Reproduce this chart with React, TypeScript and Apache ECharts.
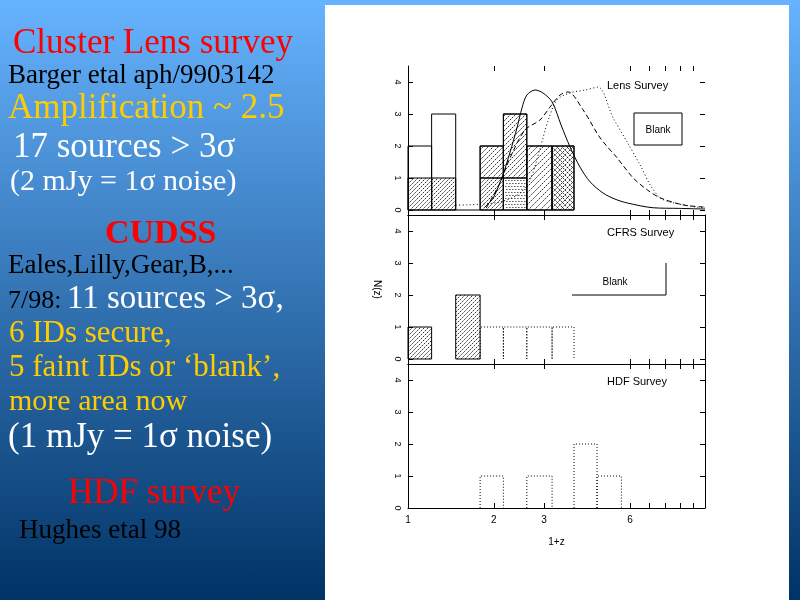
import React, { useEffect, useRef } from "react";
import * as echarts from "echarts";

// ---------- data ----------
// histogram bin edges in (1+z)
const binEdges = [1, 1.21, 1.47, 1.79, 2.16, 2.61, 3.2, 3.82, 4.6, 5.6];

// Lens survey (Barger et al.)
const lensTotal = [2, 3, 0, 2, 3, 2, 2];
const lensSecure = [1, 1, 0, 1, 0, 0, 0];
const lensFaint = [0, 0, 0, 0, 1, 0, 0];
const lensUpper = [0, 0, 0, 1, 2, 0, 0];
const lensPhotz = [0, 0, 0, 0, 0, 2, 0];
const lensCross = [0, 0, 0, 0, 0, 0, 2];

// CFRS survey
const cfrsSecure = [1, 0, 2, 0, 0, 0, 0];
const cfrsFaint = [0, 0, 0, 1, 1, 1, 1];

// HDF survey
const hdfCounts = [0, 0, 0, 1, 0, 1, 0, 2, 1];

// model curves for the lens survey
const modelSolidX = [1.86, 1.99, 2.15, 2.28, 2.41, 2.51, 2.61, 2.79, 2.97, 3.2, 3.44, 3.7, 4.01, 4.35, 4.83, 5.32, 5.87, 7.24, 8.98, 11];
const modelSolidY = [0.09, 0.38, 1.09, 1.81, 2.56, 3.19, 3.59, 3.75, 3.66, 3.38, 2.66, 1.97, 1.34, 0.88, 0.53, 0.34, 0.22, 0.07, 0.05, 0.03];
const modelDashX = [1.88, 2.1, 2.28, 2.57, 2.9, 3.15, 3.41, 3.64, 4.11, 4.72, 5.41, 6.16, 6.9, 7.66, 9.22, 11];
const modelDashY = [0.06, 0.84, 1.63, 2.5, 2.81, 3.22, 3.59, 3.69, 3.13, 2.25, 1.63, 1.0, 0.63, 0.38, 0.16, 0.09];
const modelDotX = [1.47, 1.62, 1.78, 2.1, 2.45, 2.68, 2.9, 3.1, 3.33, 3.7, 4.18, 4.64, 5.24, 5.87, 6.52, 7.07, 7.66, 8.3, 9.76, 11];
const modelDotY = [0.15, 0.16, 0.18, 0.25, 0.5, 0.94, 1.9, 2.8, 3.44, 3.66, 3.75, 3.84, 2.88, 2.12, 1.4, 0.78, 0.38, 0.25, 0.12, 0.06];

// axes
const xTickValues = [2, 3, 6, 7, 8, 9, 10];
const xLabelValues = [1, 2, 3, 6];
const yTickValues = [0, 1, 2, 3, 4];
const X_MIN = 1;
const X_MAX = 11;
const Y_MAX = 4.5;

// slide texts: [text, x, baseline, size, color, bold]
const slideTexts: [string, number, number, number, string, boolean][] = [
  ["Cluster Lens survey", 13, 53, 35, "#ff0000", false],
  ["Barger etal aph/9903142", 8, 83, 27, "#000000", false],
  ["Amplification ~ 2.5", 8, 118, 35, "#ffcc00", false],
  ["17 sources > 3\u03c3", 13, 157, 35, "#ffffff", false],
  ["(2 mJy = 1\u03c3 noise)", 10, 190, 30, "#ffffff", false],
  ["CUDSS", 105, 243, 34, "#ff0000", true],
  ["Eales,Lilly,Gear,B,...", 8, 273, 27, "#000000", false],
  ["7/98:", 8, 308, 26, "#000000", false],
  ["11 sources > 3\u03c3,", 67, 308, 33, "#ffffff", false],
  ["6 IDs secure,", 9, 342, 31, "#ffcc00", false],
  ["5 faint IDs or \u2018blank\u2019,", 9, 376, 31, "#ffcc00", false],
  ["more area now", 9, 409.5, 30, "#ffcc00", false],
  ["(1 mJy = 1\u03c3 noise)", 8, 447.5, 35, "#ffffff", false],
  ["HDF survey", 68, 503, 35, "#ff0000", false],
  ["Hughes etal 98", 19, 538, 27, "#000000", false],
];

const panelTitles = ["Lens Survey", "CFRS Survey", "HDF Survey"];

// ---------- helpers ----------
const lg = (v: number) => Math.log10(v);
const SERIF = '"Liberation Serif", "Times New Roman", serif';
const SANS = '"Liberation Sans", Arial, sans-serif';

// pattern codes
const P_OUTLINE = 0, P_HATCH4 = 1, P_HATCH5 = 2, P_HATCH6 = 3, P_DOTS = 4, P_CROSS = 5, P_DOTTED = 6;

function lensItems() {
  const items: number[][] = [];
  for (let i = 0; i < lensTotal.length; i++) {
    const x0 = lg(binEdges[i]);
    const x1 = lg(binEdges[i + 1]);
    let base = 0;
    const layers: [number, number][] = [
      [lensSecure[i], P_HATCH4],
      [lensFaint[i], P_DOTS],
      [lensUpper[i], P_HATCH5],
      [lensPhotz[i], P_HATCH6],
      [lensCross[i], P_CROSS],
    ];
    for (const [v, p] of layers) {
      if (v > 0) {
        items.push([x0, x1, base, base + v, p]);
        base += v;
      }
    }
    items.push([x0, x1, 0, lensTotal[i], P_OUTLINE]);
  }
  return items;
}

function cfrsItems() {
  const items: number[][] = [];
  for (let i = 0; i < cfrsSecure.length; i++) {
    const x0 = lg(binEdges[i]);
    const x1 = lg(binEdges[i + 1]);
    if (cfrsSecure[i] > 0) items.push([x0, x1, 0, cfrsSecure[i], P_HATCH4]);
    if (cfrsFaint[i] > 0) items.push([x0, x1, 0, cfrsFaint[i], P_DOTTED]);
  }
  return items;
}

function hdfItems() {
  const items: number[][] = [];
  for (let i = 0; i < hdfCounts.length; i++) {
    if (hdfCounts[i] > 0) items.push([lg(binEdges[i]), lg(binEdges[i + 1]), 0, hdfCounts[i], P_DOTTED]);
  }
  return items;
}

function hatch(l: number, t: number, r: number, b: number, sp: number, dir: number, style: any) {
  const out: any[] = [];
  if (dir === 1) {
    const start = Math.ceil((l + t) / sp) * sp;
    for (let c = start; c < r + b; c += sp) {
      const xa = Math.max(l, c - b);
      const xb = Math.min(r, c - t);
      if (xb > xa) out.push({ type: "line", shape: { x1: xa, y1: c - xa, x2: xb, y2: c - xb }, style });
    }
  } else {
    const start = Math.ceil((l - b) / sp) * sp;
    for (let c = start; c < r - t; c += sp) {
      const xa = Math.max(l, c + t);
      const xb = Math.min(r, c + b);
      if (xb > xa) out.push({ type: "line", shape: { x1: xa, y1: xa - c, x2: xb, y2: xb - c }, style });
    }
  }
  return out;
}

function renderHist(params: any, api: any) {
  const x0 = api.value(0), x1 = api.value(1), y0 = api.value(2), y1 = api.value(3), pat = api.value(4);
  const a = api.coord([x0, y0]);
  const b = api.coord([x1, y1]);
  const l = a[0], r = b[0], bot = a[1], top = b[1];
  const children: any[] = [];
  const hs = { stroke: "#000", lineWidth: 0.8, lineDash: [2, 1] };
  if (pat === P_HATCH4) children.push(...hatch(l, top, r, bot, 4, 1, hs));
  if (pat === P_HATCH5) children.push(...hatch(l, top, r, bot, 5, 1, hs));
  if (pat === P_HATCH6) children.push(...hatch(l, top, r, bot, 6, 1, hs));
  if (pat === P_CROSS) {
    children.push(...hatch(l, top, r, bot, 5, 1, hs));
    children.push(...hatch(l, top, r, bot, 5, -1, hs));
  }
  if (pat === P_DOTS) {
    for (let yy = top + 2; yy < bot - 1; yy += 3) {
      for (let xx = l + 2 + ((Math.round(yy) % 2) ? 1 : 0); xx < r - 1; xx += 3) {
        children.push({ type: "rect", shape: { x: xx, y: yy, width: 1, height: 1 }, style: { fill: "#000" } });
      }
    }
  }
  if (pat === P_DOTTED) {
    children.push({
      type: "polyline",
      shape: { points: [[l, bot], [l, top], [r, top], [r, bot]] },
      style: { stroke: "#000", lineWidth: 1, lineDash: [1, 2], fill: null },
    });
  } else if (Math.abs(bot - top) < 0.5) {
    children.push({ type: "line", shape: { x1: l, y1: bot, x2: r, y2: bot }, style: { stroke: "#000", lineWidth: 1 } });
  } else {
    children.push({
      type: "rect",
      shape: { x: l, y: top, width: r - l, height: bot - top },
      style: { fill: null, stroke: "#000", lineWidth: 1 },
    });
  }
  return { type: "group", children };
}

const zip = (xs: number[], ys: number[]) => xs.map((x, i) => [lg(x), ys[i]]);

// ---------- component ----------
export default function App() {
  const ref = useRef<HTMLDivElement>(null);

  useEffect(() => {
    if (!ref.current) return;
    const chart = echarts.init(ref.current, null, { renderer: "svg" });

    const grids = [
      { left: 408, top: 66, width: 297, height: 149 },
      { left: 408, top: 215, width: 297, height: 149 },
      { left: 408, top: 364, width: 297, height: 144 },
    ];
    const yMins = [-0.15625, -0.15625, 0];
    const showTopRight = [false, true, true];

    const xAxes: any[] = [];
    const yAxes: any[] = [];
    for (let g = 0; g < 3; g++) {
      const tick = { show: true, inside: true, length: 5, lineStyle: { color: "#000", width: 1 }, customValues: xTickValues.map(lg) };
      xAxes.push({
        type: "value", gridIndex: g, position: "bottom", min: lg(X_MIN), max: lg(X_MAX),
        axisLine: { show: true, onZero: false, lineStyle: { color: "#000", width: 1 } },
        axisTick: tick,
        splitLine: { show: false },
        axisLabel: g === 2
          ? { show: true, customValues: xLabelValues.map(lg), formatter: (v: number) => String(Math.round(Math.pow(10, v))), color: "#000", fontSize: 10, fontFamily: SANS, margin: 6 }
          : { show: false },
        name: g === 2 ? "1+z" : "",
        nameLocation: "middle", nameGap: 28,
        nameTextStyle: { color: "#000", fontSize: 10, fontFamily: SANS },
      });
      xAxes.push({
        type: "value", gridIndex: g, position: "top", min: lg(X_MIN), max: lg(X_MAX),
        axisLine: { show: showTopRight[g], onZero: false, lineStyle: { color: "#000", width: 1 } },
        axisTick: tick,
        splitLine: { show: false },
        axisLabel: { show: false },
      });
      const ytick = { show: true, inside: true, length: 5, lineStyle: { color: "#000", width: 1 }, customValues: yTickValues };
      yAxes.push({
        type: "value", gridIndex: g, position: "left", min: yMins[g], max: Y_MAX,
        axisLine: { show: true, onZero: false, lineStyle: { color: "#000", width: 1 } },
        axisTick: ytick,
        splitLine: { show: false },
        axisLabel: { show: true, customValues: yTickValues, rotate: -90, color: "#000", fontSize: 9, fontFamily: SANS, margin: 6 },
        name: g === 1 ? "N(z)" : "",
        nameLocation: "middle", nameRotate: -90, nameGap: 26,
        nameTextStyle: { color: "#000", fontSize: 10, fontFamily: SANS },
      });
      yAxes.push({
        type: "value", gridIndex: g, position: "right", min: yMins[g], max: Y_MAX,
        axisLine: { show: showTopRight[g], onZero: false, lineStyle: { color: "#000", width: 1 } },
        axisTick: ytick,
        splitLine: { show: false },
        axisLabel: { show: false },
      });
    }

    const lineSeries = (data: number[][], type: any) => ({
      type: "line", xAxisIndex: 0, yAxisIndex: 0, data, smooth: 0.3, showSymbol: false, symbol: "none",
      silent: true, lineStyle: { color: "#000", width: 1, type }, z: 3,
    });

    const histSeries = (g: number, data: number[][]) => ({
      type: "custom", xAxisIndex: 2 * g, yAxisIndex: 2 * g, data, renderItem: renderHist,
      encode: { x: [0, 1], y: [2, 3] }, silent: true, z: 2,
    });

    const graphics: any[] = [
      {
        type: "rect", z: -10, silent: true,
        shape: { x: 0, y: 0, width: 800, height: 600 },
        style: { fill: new echarts.graphic.LinearGradient(0, 0, 0, 1, [
          { offset: 0, color: "#66b3ff" },
          { offset: 1, color: "#003366" },
        ]) },
      },
      { type: "rect", z: -9, silent: true, shape: { x: 325, y: 5, width: 464, height: 600 }, style: { fill: "#ffffff" } },
    ];
    for (const [text, x, base, size, color, bold] of slideTexts) {
      graphics.push({
        type: "text", x, y: base - 0.34 * size, silent: true,
        style: { text, fill: color, font: `${bold ? "bold " : ""}${size}px ${SERIF}`, verticalAlign: "middle", align: "left", lineHeight: Math.round(size * 0.9) },
      });
    }
    const titleFont = `11px ${SANS}`;
    const smallFont = `10px ${SANS}`;
    const panelTitleY = [85, 232, 381];
    panelTitles.forEach((t, i) => {
      graphics.push({ type: "text", x: 607, y: panelTitleY[i], silent: true, style: { text: t, fill: "#000", font: titleFont, verticalAlign: "middle" } });
    });
    graphics.push({ type: "rect", silent: true, shape: { x: 634, y: 113, width: 48, height: 32 }, style: { fill: null, stroke: "#000", lineWidth: 1 } });
    graphics.push({ type: "text", x: 658, y: 129, silent: true, style: { text: "Blank", fill: "#000", font: smallFont, align: "center", verticalAlign: "middle" } });
    graphics.push({ type: "polyline", silent: true, shape: { points: [[572, 295], [666, 295], [666, 263]] }, style: { fill: null, stroke: "#000", lineWidth: 1 } });
    graphics.push({ type: "text", x: 615, y: 281, silent: true, style: { text: "Blank", fill: "#000", font: smallFont, align: "center", verticalAlign: "middle" } });

    chart.setOption({
      animation: false,
      grid: grids,
      xAxis: xAxes,
      yAxis: yAxes,
      graphic: graphics,
      series: [
        histSeries(0, lensItems()),
        histSeries(1, cfrsItems()),
        histSeries(2, hdfItems()),
        lineSeries(zip(modelSolidX, modelSolidY), "solid"),
        lineSeries(zip(modelDashX, modelDashY), [5, 3]),
        lineSeries(zip(modelDotX, modelDotY), [1, 2.5]),
      ],
    });

    return () => chart.dispose();
  }, []);

  return (
    <div style={{ position: "fixed", left: 0, top: 0, width: 800, height: 600, margin: 0 }}>
      <div ref={ref} style={{ width: 800, height: 600 }} />
    </div>
  );
}
